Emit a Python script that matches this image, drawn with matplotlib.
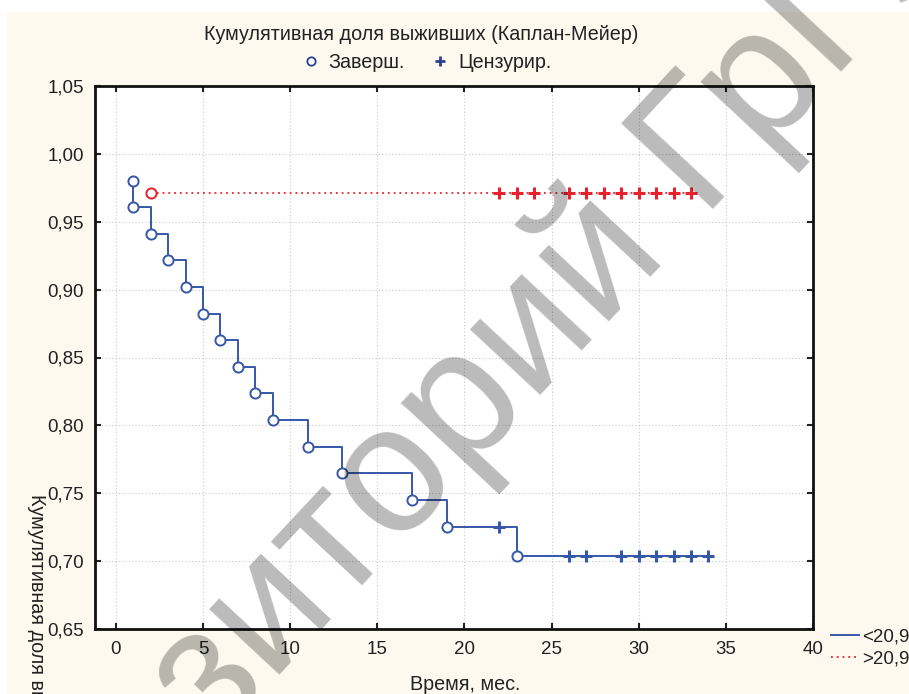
import matplotlib
matplotlib.use("Agg")
import matplotlib.pyplot as plt
from matplotlib.lines import Line2D
from matplotlib.patches import Rectangle
from matplotlib.ticker import FuncFormatter

plt.rcParams['font.family'] = ['Liberation Sans', 'DejaVu Sans']

# группа <20,9: завершённые случаи и цензурированные
blue_event_t = [1, 1, 2, 3, 4, 5, 6, 7, 8, 9, 11, 13, 17, 19, 23]
blue_event_s = [0.980, 0.961, 0.941, 0.922, 0.902, 0.882, 0.863, 0.843,
                0.824, 0.804, 0.784, 0.765, 0.745, 0.725, 0.704]
blue_cens_t = [22, 26, 27, 29, 30, 31, 32, 33, 34]
blue_cens_s = [0.725, 0.704, 0.704, 0.704, 0.704, 0.704, 0.704, 0.704, 0.704]

# группа >20,9
red_event_t = [2]
red_event_s = [0.971]
red_cens_t = [22, 23, 24, 26, 27, 28, 29, 30, 31, 32, 33]
red_cens_s = [0.971] * 11

x_ticks = [0, 5, 10, 15, 20, 25, 30, 35, 40]
y_ticks = [0.65, 0.70, 0.75, 0.80, 0.85, 0.90, 0.95, 1.00, 1.05]

BLUE = '#3558a8'
RED = '#e8222c'
DARK = '#2a3f96'
CREAM = '#fdf9ee'
TXT = '#222222'

fig = plt.figure(figsize=(9.09, 6.94), dpi=100, facecolor='white')
fig.patches.append(Rectangle((7 / 909, 0), 1, 1 - 12 / 694, transform=fig.transFigure,
                             facecolor=CREAM, edgecolor='none', zorder=-10))

ax = fig.add_axes([95 / 909, 1 - 629 / 694, 718 / 909, 543 / 694])
ax.set_facecolor('white')


def km_line(ev_t, ev_s, ce_t, ce_s):
    pts = sorted(list(zip(ev_t, ev_s)) + list(zip(ce_t, ce_s)), key=lambda p: (p[0], -p[1]))
    return [p[0] for p in pts], [p[1] for p in pts]


bx, by = km_line(blue_event_t, blue_event_s, blue_cens_t, blue_cens_s)
ax.plot(bx, by, drawstyle='steps-post', color=BLUE, lw=1.4, zorder=3)
ax.plot(blue_event_t, blue_event_s, 'o', ms=7.3, mfc='white', mec=BLUE, mew=1.4, zorder=4)
ax.plot(blue_cens_t, blue_cens_s, '+', ms=8.5, mec=BLUE, mew=2.2, zorder=4)

rx, ry = km_line(red_event_t, red_event_s, red_cens_t, red_cens_s)
ax.plot(rx, ry, drawstyle='steps-post', color=RED, lw=1.3, ls=(0, (1, 2.2)), zorder=3)
ax.plot(red_event_t, red_event_s, 'o', ms=7.3, mfc='white', mec=RED, mew=1.4, zorder=4)
ax.plot(red_cens_t, red_cens_s, '+', ms=8.5, mec=RED, mew=2.2, zorder=4)

ax.set_xlim(-1.2, 40)
ax.set_ylim(0.65, 1.05)
ax.set_xticks(x_ticks)
ax.set_yticks(y_ticks)
ax.yaxis.set_major_formatter(FuncFormatter(lambda v, p: f'{v:.2f}'.replace('.', ',')))
ax.tick_params(direction='in', length=4, width=1.5, labelsize=13.5, colors=TXT,
               top=True, right=True, pad=9)
ax.tick_params(axis='y', pad=8)
ax.grid(True, color='#c8c8c8', ls=(0, (1, 2)), lw=0.8)
ax.set_axisbelow(True)
for sp in ax.spines.values():
    sp.set_linewidth(2)
    sp.set_color('#111111')

fig.text(421 / 909, 1 - 35 / 694, 'Кумулятивная доля выживших (Каплан-Мейер)',
         ha='center', va='center', fontsize=14.2, color=TXT)
top_handles = [Line2D([], [], ls='none', marker='o', ms=6, mfc='white', mec=DARK, mew=1.3),
               Line2D([], [], ls='none', marker='+', ms=7, mec=DARK, mew=2)]
fig.legend(top_handles, ['Заверш.', 'Цензурир.'], loc='center', ncol=2,
           bbox_to_anchor=(426 / 909, 1 - 62 / 694), frameon=False, fontsize=14.2,
           handlelength=1.0, handletextpad=0.4, columnspacing=1.3, labelcolor=TXT)

bottom_handles = [Line2D([], [], color=BLUE, lw=1.4),
                  Line2D([], [], color=RED, lw=1.3, ls=(0, (1, 2.2)))]
fig.legend(bottom_handles, ['<20,9', '>20,9'], loc='upper left',
           bbox_to_anchor=(822 / 909, 1 - 619 / 694), frameon=False, fontsize=13.5,
           handlelength=1.45, handletextpad=0.2, labelspacing=0.25, borderpad=0,
           labelcolor=TXT)

fig.text(465 / 909, 1 - 684 / 694, 'Время, мес.', ha='center', va='center',
         fontsize=14.2, color=TXT)
fig.text(36 / 909, 1 - 494 / 694, 'Кумулятивная доля выживших', rotation=270,
         ha='center', va='top', fontsize=14.2, color=TXT)

# водяной знак репозитория поверх графика
fig.text(421 / 909, 1 - 452 / 694, 'Репозиторий ГрГУ', rotation=47,
         rotation_mode='anchor', ha='center', va='center', fontsize=130,
         color='black', alpha=0.27, zorder=20)

fig.savefig('out.png', dpi=100, facecolor=fig.get_facecolor())
